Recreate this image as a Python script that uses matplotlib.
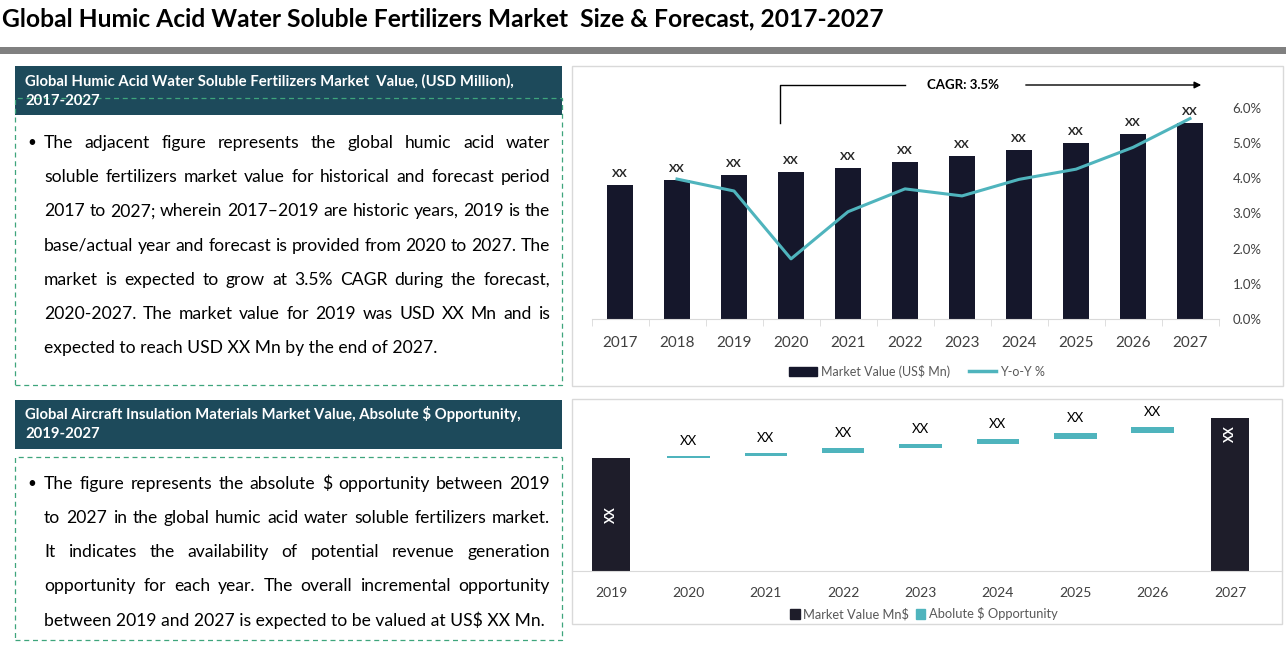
import numpy as np
import matplotlib.pyplot as plt
from matplotlib.patches import Rectangle, Patch, FancyArrowPatch
from matplotlib.lines import Line2D

# data
years_top = ['2017', '2018', '2019', '2020', '2021', '2022', '2023', '2024', '2025', '2026', '2027']
market_value = [13.4, 13.9, 14.4, 14.7, 15.1, 15.7, 16.3, 16.9, 17.6, 18.5, 19.6]
yoy_years = ['2018', '2019', '2020', '2021', '2022', '2023', '2024', '2025', '2026', '2027']
yoy_pct = [3.98, 3.64, 1.71, 3.05, 3.70, 3.50, 3.97, 4.26, 4.88, 5.70]

years_opp = ['2019', '2020', '2021', '2022', '2023', '2024', '2025', '2026', '2027']
start_value = 113.0
end_value = 152.7
opp_top = [114.7, 118.0, 123.0, 127.0, 132.0, 138.0, 143.7]
opp_size = [1.7, 3.3, 5.3, 4.3, 5.3, 6.3, 6.0]

para1 = ["The adjacent figure represents the global humic acid water",
         "soluble fertilizers  market value for historical and forecast period",
         "2017 to 2027; wherein 2017\u20132019 are historic years, 2019 is the",
         "base/actual year and forecast is provided from 2020 to 2027. The",
         "market is expected to grow at 3.5% CAGR during the forecast,",
         "2020-2027. The market value for 2019 was USD XX Mn and is",
         "expected to reach USD XX Mn by the end of 2027."]
para2 = ["The figure represents the absolute $ opportunity between 2019",
         "to 2027 in the global humic acid water soluble fertilizers market.",
         "It indicates the availability of potential revenue generation",
         "opportunity for each year. The overall incremental opportunity",
         "between 2019 and 2027 is expected to be valued at US$ XX Mn."]

W, H = 1286, 652
DARK = '#15172b'
TEAL = '#4fb4bd'
HEAD = '#1d4a5b'
GRID = '#d9d9d9'
TXT = '#404040'

plt.rcParams['font.family'] = ['Lato', 'DejaVu Sans']

fig = plt.figure(figsize=(W / 100, H / 100), dpi=100)
r = fig.canvas.get_renderer()


def fx(x):
    return x / W


def fy(y):
    return 1 - y / H


def rect(x0, y0, x1, y1, **kw):
    fig.add_artist(Rectangle((fx(x0), fy(y1)), fx(x1) - fx(x0), fy(y0) - fy(y1),
                             transform=fig.transFigure, **kw))


def justify(lines, x0, x1, y0, dy, size):
    # word by word placement so the lines fill the box like the reference
    for i, line in enumerate(lines):
        y = y0 + i * dy
        if i == len(lines) - 1:
            fig.text(fx(x0), fy(y), line, fontsize=size, va='center', parse_math=False)
            continue
        words = line.split()
        texts = [fig.text(0, fy(y), w, fontsize=size, va='center', parse_math=False) for w in words]
        widths = [t.get_window_extent(r).width for t in texts]
        gap = (x1 - x0 - sum(widths)) / (len(words) - 1)
        x = x0
        for t, w in zip(texts, widths):
            t.set_x(fx(x))
            x += w + gap


# title and grey rule
t = fig.text(fx(2), fy(19), 'Global Humic Acid Water Soluble Fertilizers Market  Size & Forecast, 2017-2027',
             fontsize=15, fontweight='bold', va='center', parse_math=False)
w = t.get_window_extent(r).width
t.set_fontsize(15 * 886 / w)
rect(0, 47, W, 54, color='#808080', lw=0)

# left text boxes
BODY = 12.6
rect(15, 66, 562, 115, color=HEAD, lw=0)
fig.text(fx(25), fy(81), 'Global Humic Acid Water Soluble Fertilizers Market  Value, (USD Million),',
         color='white', fontsize=10.7, fontweight='bold', va='center')
fig.text(fx(25), fy(101), '2017-2027', color='white', fontsize=10.7, fontweight='bold', va='center')
rect(15, 98, 562, 385, fill=False, ec='#3ea57c', lw=0.9, ls=(0, (4, 3)))
fig.text(fx(27), fy(143), '\u2022', fontsize=11, va='center')
justify(para1, 44, 550, 143, 34.2, BODY)

rect(15, 400, 562, 449, color=HEAD, lw=0)
fig.text(fx(25), fy(414), 'Global Aircraft Insulation Materials Market Value, Absolute $ Opportunity,',
         color='white', fontsize=10.7, fontweight='bold', va='center', parse_math=False)
fig.text(fx(25), fy(434), '2019-2027', color='white', fontsize=10.7, fontweight='bold', va='center')
rect(15, 457, 562, 640, fill=False, ec='#3ea57c', lw=0.9, ls=(0, (4, 3)))
fig.text(fx(27), fy(484), '\u2022', fontsize=11, va='center')
justify(para2, 44, 550, 484, 34, BODY)

# chart panels
rect(572, 66, 1283, 386, fill=False, ec=GRID, lw=1)
rect(572, 399, 1282, 624, fill=False, ec=GRID, lw=1)

# ---- top chart: market value + y-o-y
ax = fig.add_axes([fx(591.5), fy(319), fx(1218.5) - fx(591.5), fy(90.4) - fy(319)])
x = np.arange(len(years_top))
ax.bar(x, market_value, width=0.47, color=DARK, zorder=2)
for xi, v in zip(x, market_value):
    ax.text(xi, v + 0.55, 'XX', ha='center', va='bottom', fontsize=8.5, fontweight='bold', color='#262626')
ax.set_xlim(-0.5, len(years_top) - 0.5)
ax.set_ylim(0, 22.86)
ax.set_yticks([])
ax.set_xticks(x)
ax.set_xticklabels(years_top, fontsize=11, color=TXT)
ax.set_xticks(np.arange(-0.5, len(years_top)), minor=True)
ax.tick_params(axis='x', which='major', length=0, pad=12)
ax.tick_params(axis='x', which='minor', length=5, color=GRID)
for s in ['top', 'left', 'right']:
    ax.spines[s].set_visible(False)
ax.spines['bottom'].set_color(GRID)
ax.patch.set_alpha(0)

ax2 = ax.twinx()
xy = [years_top.index(y) for y in yoy_years]
ax2.plot(xy, yoy_pct, color=TEAL, lw=2.2, zorder=3)
ax2.set_ylim(0, 6.5)
ax2.set_yticks(np.arange(0, 7))
ax2.set_yticklabels([f'{v:.1f}%' for v in range(7)], fontsize=9.5, color=TXT)
ax2.tick_params(axis='y', length=0, pad=10)
for s in ax2.spines.values():
    s.set_visible(False)

# CAGR arrow
fig.add_artist(Line2D([fx(780), fx(780), fx(905)], [fy(123), fy(85), fy(85)],
                      transform=fig.transFigure, color='black', lw=1))
fig.text(fx(963), fy(85), 'CAGR: 3.5%', ha='center', va='center', fontsize=9.5, fontweight='bold')
fig.add_artist(FancyArrowPatch((fx(1023), fy(85)), (fx(1204), fy(85)), transform=fig.transFigure,
                               arrowstyle='-|>', mutation_scale=10, color='black', lw=1))

fig.legend(handles=[Patch(color=DARK, label='Market Value (US$ Mn)'),
                    Line2D([], [], color=TEAL, lw=2.5, label='Y-o-Y %')],
           loc='center', bbox_to_anchor=(fx(917), fy(371)), ncol=2, frameon=False,
           fontsize=9, labelcolor='#595959', handlelength=2.2, handleheight=0.7,
           columnspacing=1.5, handletextpad=0.3)

# ---- bottom chart: absolute $ opportunity waterfall
bx = fig.add_axes([fx(572), fy(570.7), fx(1282) - fx(572), fy(405) - fy(570.7)])
xo = np.arange(len(years_opp))
bx.bar(xo[0], start_value, width=0.49, color='#1e1d2a')
bx.bar(xo[-1], end_value, width=0.49, color='#1e1d2a')
bx.bar(xo[1:-1], opp_size, bottom=np.array(opp_top) - np.array(opp_size), width=0.55, color=TEAL)
bx.text(xo[0], start_value / 2, 'XX', rotation=90, ha='center', va='center', color='white',
        fontsize=9, fontweight='bold')
bx.text(xo[-1], end_value - 16, 'XX', rotation=90, ha='center', va='center', color='white',
        fontsize=9, fontweight='bold')
for xi, top in zip(xo[1:-1], opp_top):
    bx.text(xi, top + 9, 'XX', ha='center', va='bottom', fontsize=9.5, color='black')
bx.set_xlim(-0.504, 8.67)
bx.set_ylim(0, 165.7)
bx.set_yticks([])
bx.set_xticks(xo)
bx.set_xticklabels(years_opp, fontsize=10, color=TXT)
bx.tick_params(axis='x', length=0, pad=12)
for s in ['top', 'left', 'right']:
    bx.spines[s].set_visible(False)
bx.spines['bottom'].set_color(GRID)
bx.patch.set_alpha(0)

fig.legend(handles=[Patch(color='#1e1d2a', label='Market Value Mn$'),
                    Patch(color=TEAL, label='Abolute $ Opportunity')],
           loc='center', bbox_to_anchor=(fx(924), fy(614)), ncol=2, frameon=False,
           fontsize=9.3, labelcolor='#595959', handlelength=0.7, handleheight=0.7,
           columnspacing=0.5, handletextpad=0.3)

fig.savefig('out.png', dpi=100)
